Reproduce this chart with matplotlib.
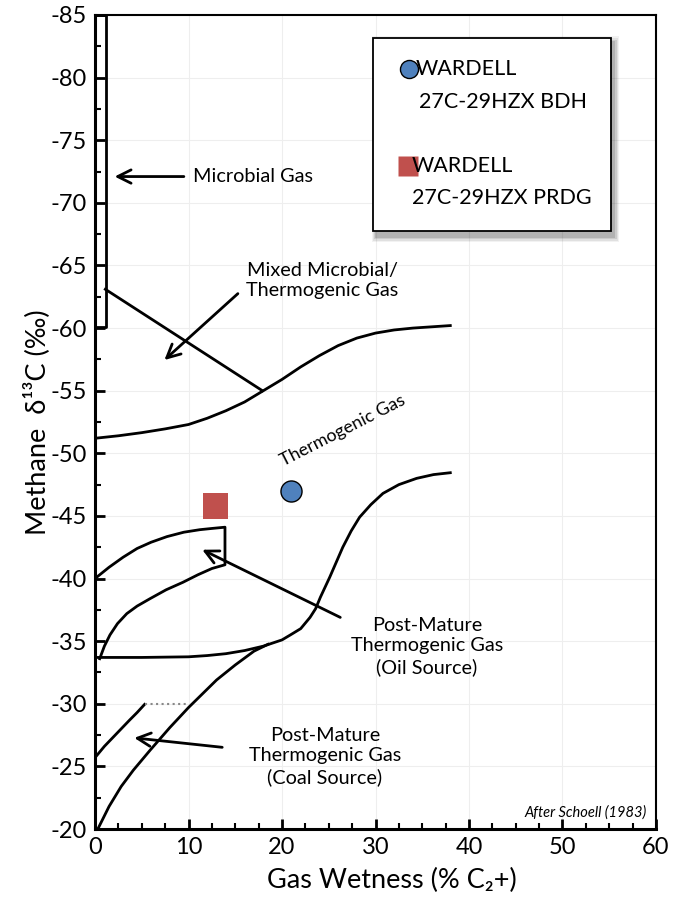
import numpy as np
import matplotlib
matplotlib.use('Agg')
import matplotlib.pyplot as plt
from matplotlib.patches import Rectangle

plt.rcParams['font.family'] = ['Lato', 'DejaVu Sans']
plt.rcParams['axes.unicode_minus'] = False

# samples
bdh_x, bdh_y = [21.0], [-47.0]
prdg_x, prdg_y = [12.9], [-45.8]

# Schoell (1983) field boundaries
microbial_x = [0, 1.2, 1.2, 0]
microbial_y = [-85, -85, -60.1, -60.1]
mixed_x = [1.1, 17.9]
mixed_y = [-63.1, -55.0]
thermo_upper_x = [0, 2.5, 5, 7.5, 10, 12, 14, 16, 18, 20, 22, 24, 26, 28, 30, 32, 34, 36, 38]
thermo_upper_y = [-51.2, -51.4, -51.65, -51.95, -52.3, -52.8, -53.4, -54.1, -55.0, -55.9,
                  -56.9, -57.8, -58.6, -59.2, -59.6, -59.85, -60.0, -60.1, -60.2]
thermo_lower_x = [0, 5, 10, 12, 14, 16, 18, 20, 20.9, 22, 23, 23.6, 24.1, 24.6, 25.1, 25.8,
                  26.5, 27.4, 28.3, 29.5, 30.8, 32.5, 34.4, 36.2, 38]
thermo_lower_y = [-33.7, -33.7, -33.75, -33.85, -34.0, -34.25, -34.6, -35.1, -35.5, -36.0,
                  -36.9, -37.6, -38.5, -39.3, -40.1, -41.3, -42.5, -43.8, -44.9, -45.9,
                  -46.8, -47.5, -48.0, -48.3, -48.45]
oil_x = [0, 1.5, 3, 4.5, 6, 7.7, 9.5, 11.2, 12.5, 13.9, 13.9, 12.5, 11, 9.4, 7.6, 5.9,
         4.5, 3.4, 2.4, 1.6, 1.0, 0.5]
oil_y = [-40.0, -40.9, -41.7, -42.4, -42.9, -43.35, -43.7, -43.9, -44.0, -44.1, -41.1,
         -40.8, -40.3, -39.7, -39.1, -38.4, -37.8, -37.2, -36.4, -35.5, -34.6, -33.6]
coal_lower_x = [0.3, 1.5, 2.8, 4.1, 5.9, 8, 10, 11.5, 13, 15, 17.0, 18.5]
coal_lower_y = [-20.0, -21.8, -23.4, -24.7, -26.3, -28.1, -29.7, -30.8, -31.9, -33.1,
                -34.2, -34.75]
coal_upper_x = [0, 1, 1.9, 2.8, 3.7, 4.5, 5.3]
coal_upper_y = [-25.7, -26.6, -27.3, -28.0, -28.7, -29.3, -29.95]
coal_dotted_x = [5.3, 10.0]
coal_dotted_y = [-30.0, -30.0]

fig = plt.figure(figsize=(6.73, 9.09), dpi=100)
ax = fig.add_axes([0.1412, 0.088, 0.8335, 0.8955])

lw = 2.0
ax.plot(microbial_x, microbial_y, color='black', lw=lw, clip_on=False)
ax.plot(mixed_x, mixed_y, color='black', lw=lw)
ax.plot(thermo_upper_x, thermo_upper_y, color='black', lw=lw)
ax.plot(thermo_lower_x, thermo_lower_y, color='black', lw=lw)
ax.plot(oil_x, oil_y, color='black', lw=lw)
ax.plot(coal_lower_x, coal_lower_y, color='black', lw=lw)
ax.plot(coal_upper_x, coal_upper_y, color='black', lw=lw)
ax.plot(coal_dotted_x, coal_dotted_y, color='#888888', lw=1.5, ls=':')

ax.scatter(bdh_x, bdh_y, s=230, marker='o', color='#4F81BD', edgecolor='black',
           linewidth=1, zorder=5)
ax.scatter(prdg_x, prdg_y, s=330, marker='s', color='#C0504D', edgecolor='none',
           zorder=5)

# annotations
fs = 14.3
arrow = dict(arrowstyle='->', color='black', lw=2, mutation_scale=24)
ax.annotate('', xy=(1.8, -72.1), xytext=(9.8, -72.1), arrowprops=arrow)
ax.text(10.5, -72.1, 'Microbial Gas', fontsize=fs, va='center', ha='left')

ax.annotate('', xy=(7.2, -57.3), xytext=(15.5, -62.9), arrowprops=arrow)
ax.text(24.3, -63.8, 'Mixed Microbial/\nThermogenic Gas', fontsize=fs, ha='center',
        va='center', linespacing=1.25)

ax.text(26.5, -51.8, 'Thermogenic Gas', fontsize=13, ha='center', va='center', rotation=27)

ax.annotate('', xy=(11.2, -42.4), xytext=(26.5, -36.8), arrowprops=arrow)
ax.text(35.5, -34.6, 'Post-Mature\nThermogenic Gas\n(Oil Source)', fontsize=fs,
        ha='center', va='center', linespacing=1.25)

ax.annotate('', xy=(3.9, -27.3), xytext=(13.9, -26.5), arrowprops=arrow)
ax.text(24.6, -25.8, 'Post-Mature\nThermogenic Gas\n(Coal Source)', fontsize=fs,
        ha='center', va='center', linespacing=1.25)

ax.text(59.0, -21.3, 'After Schoell (1983)', fontsize=10.5, style='italic',
        ha='right', va='center')

ax.set_xlim(0, 60)
ax.set_ylim(-20, -85)
ax.set_xticks(np.arange(0, 61, 10))
ax.set_yticks(np.arange(-85, -19, 5))
ax.set_xticks(np.arange(0, 60.1, 2.5), minor=True)
ax.set_yticks(np.arange(-85, -19.9, 2.5), minor=True)
ax.tick_params(which='major', direction='in', length=7, width=2, labelsize=17, pad=6)
ax.tick_params(which='minor', direction='in', length=4, width=1.5)
ax.tick_params(top=False, right=False, which='both')
ax.grid(True, which='major', color='#eeeeee', lw=0.8)
for s in ax.spines.values():
    s.set_linewidth(1.5)
ax.spines['left'].set_linewidth(2.2)
ax.spines['bottom'].set_linewidth(2.2)

ax.set_xlabel('Gas Wetness (% C\u2082+)', fontsize=19.5)
ax.xaxis.set_label_coords(0.529, -0.048)
ax.set_ylabel('Methane  \u03b4\u00b9\u00b3C (\u2030)', fontsize=19.5, labelpad=0)

# legend box drawn by hand (marker sits on the first line of each label)
bx, by, bw, bh = 0.4955, 0.7346, 0.4243, 0.2371
for i, a in enumerate([0.05, 0.07, 0.09, 0.12]):
    grow = (4 - i) * 0.002
    ax.add_patch(Rectangle((bx + 0.006 - grow, by - 0.006 - grow), bw + 2 * grow,
                           bh + 2 * grow, transform=ax.transAxes, facecolor='black',
                           edgecolor='none', alpha=a, zorder=6))
box = Rectangle((bx, by), bw, bh, transform=ax.transAxes,
                facecolor='white', edgecolor='black', lw=1.3, zorder=7)
ax.add_patch(box)
ax.plot([0.5597], [0.9337], marker='o', ms=13, color='#4F81BD', mec='black', mew=1,
        transform=ax.transAxes, zorder=8, clip_on=False)
ax.plot([0.558], [0.8145], marker='s', ms=14, color='#C0504D', mec='none',
        transform=ax.transAxes, zorder=8, clip_on=False)
lfs = 15.5
ax.text(0.5722, 0.9337, 'WARDELL', fontsize=lfs, va='center', ha='left',
        transform=ax.transAxes, zorder=9)
ax.text(0.5775, 0.8931, '27C-29HZX BDH', fontsize=lfs, va='center', ha='left',
        transform=ax.transAxes, zorder=9)
ax.text(0.565, 0.8145, 'WARDELL', fontsize=lfs, va='center', ha='left',
        transform=ax.transAxes, zorder=9)
ax.text(0.565, 0.7752, '27C-29HZX PRDG', fontsize=lfs, va='center', ha='left',
        transform=ax.transAxes, zorder=9)

fig.savefig('out.png', dpi=100)
